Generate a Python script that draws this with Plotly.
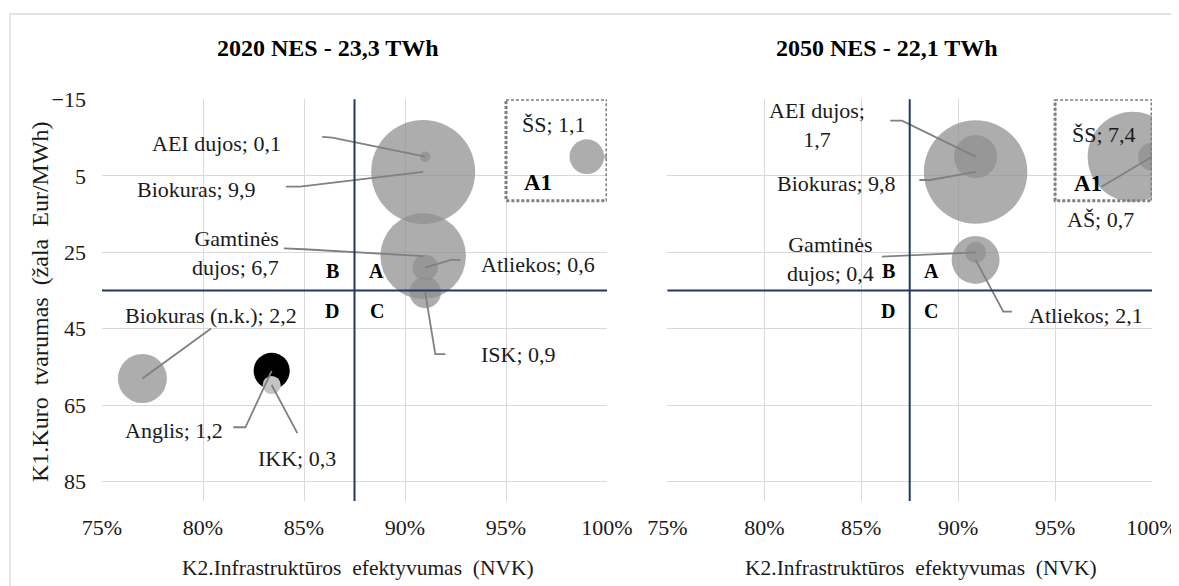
import numpy as np
import plotly.graph_objects as go

# ---------------- data ----------------
panel_titles = ["2020 NES - 23,3 TWh", "2050 NES - 22,1 TWh"]
x_axis_title = "K2.Infrastruktūros  efektyvumas  (NVK)"
y_axis_title = "K1.Kuro  tvarumas  (žala  Eur/MWh)"

fuel_2020 = ["Biokuras", "Gamtinės dujos", "Biokuras (n.k.)", "Anglis", "ŠS",
             "ISK", "Atliekos", "IKK", "AEI dujos", "AŠ"]
k2_2020 = [0.909, 0.909, 0.770, 0.834, 0.990, 0.910, 0.910, 0.834, 0.910, 1.000]
k1_2020 = [4, 26, 58, 56, 0, 35.5, 29, 59.7, 0, 0]
twh_2020 = [9.9, 6.7, 2.2, 1.2, 1.1, 0.9, 0.6, 0.3, 0.1, 0.03]

fuel_2050 = ["Biokuras", "ŠS", "Atliekos", "AEI dujos", "AŠ", "Gamtinės dujos"]
k2_2050 = [0.909, 0.990, 0.909, 0.909, 1.000, 0.909]
k1_2050 = [4, 0, 27, 0, 0, 25]
twh_2050 = [9.8, 7.4, 2.1, 1.7, 0.7, 0.4]

x_tick_vals = [0.75, 0.80, 0.85, 0.90, 0.95, 1.00]
y_tick_vals = [-15, 5, 25, 45, 65, 85]
k2_threshold = 0.875
k1_threshold = 35
zone_a1_k2 = [0.95, 1.00]
zone_a1_k1 = [-15, 11.5]
quadrant_names = ["A", "B", "C", "D"]
zone_name = "A1"

# ---------------- styling / layout ----------------
PAGE_OFF = 8                      # browser body margin
W, H = 1179 - PAGE_OFF, 586 - PAGE_OFF
FONT = "Liberation Serif, Times New Roman, Tinos, DejaVu Serif, serif"
TXT = "#1A1A1A"
GRID = "#D9D9D9"
NAVY = "#203864"
LEADER = "#808080"
BUBBLE = "rgba(143,143,143,0.73)"
special_colors = {"Anglis": "#000000", "IKK": "#C4C4C4"}
D_MAX, V_MAX = 104, 9.9
FS = 22


def px_x(px):
    return (px - PAGE_OFF) / W


def px_y(py):
    return 1 - (py - PAGE_OFF) / H


# label placement: centre (x, y), anchor, leader path (ends at the bubble), line-break mode
labels_2020 = {
    "AEI dujos": dict(pos=(0.8067, -3.5), path=[(0.859, -5.2), (0.864, -5.0)]),
    "Biokuras": dict(pos=(0.797, 8.7), path=[(0.841, 7.85), (0.848, 7.85)]),
    "Gamtinės dujos": dict(pos=(0.8385, 25.3), anchor="right", br="name",
                           path=[(0.840, 24.0), (0.850, 24.2)]),
    "Atliekos": dict(pos=(0.966, 28.3), path=[(0.9275, 27.0), (0.9227, 27.0)]),
    "ISK": dict(pos=(0.956, 51.85), path=[(0.920, 51.6), (0.915, 51.6)]),
    "Biokuras (n.k.)": dict(pos=(0.804, 41.4), path=[(0.804, 44.9)]),
    "Anglis": dict(pos=(0.7856, 71.5), path=[(0.815, 70.75), (0.821, 70.75)]),
    "IKK": dict(pos=(0.8463, 78.9), path=[(0.8467, 72.3)]),
    "ŠS": dict(pos=(0.974, -8.3), path=[]),
}
labels_2050 = {
    "AEI dujos": dict(pos=(0.827, -8.3), br="value", path=[(0.865, -9.4), (0.871, -9.4)]),
    "Biokuras": dict(pos=(0.8373, 7.0), path=[(0.880, 6.1), (0.8856, 6.1)]),
    "Gamtinės dujos": dict(pos=(0.834, 26.75), br="name", path=[(0.8607, 26.15)]),
    "Atliekos": dict(pos=(0.966, 41.4), path=[(0.9278, 40.5), (0.9233, 40.5)]),
    "ŠS": dict(pos=(0.9753, -5.7), path=[]),
    "AŠ": dict(pos=(0.9734, 16.55), path=[(0.974, 7.85)]),
}
quad_pos = {"B": (0.864, 30.0), "A": (0.886, 30.0), "D": (0.864, 40.3), "C": (0.886, 40.3)}
zone_label_pos = [(0.9656, 6.8), (0.967, 7.0)]

x_domains = [[px_x(102), px_x(607)], [px_x(667.4), px_x(1152)]]
y_domain = [px_y(500.9), px_y(99.3)]
title_pos = [(px_x(328), px_y(48)), (px_x(887), px_y(48))]
xtitle_pos = [(px_x(357.6), px_y(568)), (px_x(921), px_y(568))]
ytitle_pos = (px_x(40), px_y(302))


def fmt(v):
    return f"{v:.1f}".replace(".", ",")


def label_text(name, v, mode):
    if mode == "name":
        first, rest = name.split(" ", 1)
        return f"{first}<br>{rest}; {fmt(v)}"
    if mode == "value":
        return f"{name};<br>{fmt(v)}"
    return f"{name}; {fmt(v)}"


fig = go.Figure()
annotations = []
shapes = []

panels = [
    dict(names=fuel_2020, k2=k2_2020, k1=k1_2020, twh=twh_2020, labels=labels_2020, xa="x", ya="y"),
    dict(names=fuel_2050, k2=k2_2050, k1=k1_2050, twh=twh_2050, labels=labels_2050, xa="x2", ya="y2"),
]

for pi, p in enumerate(panels):
    order = list(np.argsort(p["twh"])[::-1])
    fig.add_trace(go.Scatter(
        x=[p["k2"][i] for i in order],
        y=[p["k1"][i] for i in order],
        mode="markers",
        marker=dict(size=[D_MAX * np.sqrt(p["twh"][i] / V_MAX) for i in order],
                    sizemode="diameter", opacity=1,
                    color=[special_colors.get(p["names"][i], BUBBLE) for i in order],
                    line=dict(width=0)),
        text=[p["names"][i] for i in order],
        hoverinfo="text",
        xaxis=p["xa"], yaxis=p["ya"], showlegend=False))

    for name, spec in p["labels"].items():
        i = p["names"].index(name)
        if spec["path"]:
            xs = [pt[0] for pt in spec["path"]] + [p["k2"][i]]
            ys = [pt[1] for pt in spec["path"]] + [p["k1"][i]]
            fig.add_trace(go.Scatter(x=xs, y=ys, mode="lines",
                                     line=dict(color=LEADER, width=1.8),
                                     hoverinfo="skip", showlegend=False,
                                     xaxis=p["xa"], yaxis=p["ya"]))
        anchor = spec.get("anchor", "center")
        annotations.append(dict(
            x=spec["pos"][0], y=spec["pos"][1], xref=p["xa"], yref=p["ya"],
            text=label_text(name, p["twh"][i], spec.get("br")),
            showarrow=False, xanchor=anchor, yanchor="middle",
            align="right" if anchor == "right" else "center",
            font=dict(family=FONT, size=FS, color=TXT)))

    for q in quadrant_names:
        annotations.append(dict(x=quad_pos[q][0], y=quad_pos[q][1], xref=p["xa"], yref=p["ya"],
                                text=f"<b>{q}</b>", showarrow=False,
                                font=dict(family=FONT, size=20, color="#000000")))
    annotations.append(dict(x=zone_label_pos[pi][0], y=zone_label_pos[pi][1], xref=p["xa"], yref=p["ya"],
                            text=f"<b>{zone_name}</b>", showarrow=False,
                            font=dict(family=FONT, size=23, color="#000000")))

    # threshold lines
    shapes.append(dict(type="line", xref=p["xa"], yref=f"{p['ya']} domain",
                       x0=k2_threshold, x1=k2_threshold, y0=0, y1=1,
                       line=dict(color=NAVY, width=2), layer="above"))
    shapes.append(dict(type="line", xref=f"{p['xa']} domain", yref=p["ya"],
                       x0=0, x1=1, y0=k1_threshold, y1=k1_threshold,
                       line=dict(color=NAVY, width=2), layer="above"))
    # A1 zone
    shapes.append(dict(type="rect", xref=p["xa"], yref=p["ya"],
                       x0=zone_a1_k2[0], x1=zone_a1_k2[1], y0=zone_a1_k1[0], y1=zone_a1_k1[1],
                       line=dict(color="#7F7F7F", width=3, dash="3px,2px"), layer="above"))

    # panel title and x-axis title
    annotations.append(dict(x=title_pos[pi][0], y=title_pos[pi][1], xref="paper", yref="paper",
                            text=f"<b>{panel_titles[pi]}</b>", showarrow=False,
                            xanchor="center", yanchor="middle",
                            font=dict(family=FONT, size=24, color="#000000")))
    annotations.append(dict(x=xtitle_pos[pi][0], y=xtitle_pos[pi][1], xref="paper", yref="paper",
                            text=x_axis_title, showarrow=False,
                            xanchor="center", yanchor="middle",
                            font=dict(family=FONT, size=21.5, color=TXT)))

# y-axis title
annotations.append(dict(x=ytitle_pos[0], y=ytitle_pos[1], xref="paper", yref="paper",
                        text=y_axis_title, showarrow=False, textangle=-90,
                        xanchor="center", yanchor="middle",
                        font=dict(family=FONT, size=24, color=TXT)))

# chart-area border
shapes.append(dict(type="rect", xref="paper", yref="paper",
                   x0=px_x(10), x1=1.05, y0=-0.05, y1=px_y(14),
                   line=dict(color=GRID, width=1.3), layer="below"))

xaxis_common = dict(range=[0.75, 1.0], tickvals=x_tick_vals, tickformat=".0%",
                    showgrid=True, gridcolor=GRID, gridwidth=1.3, zeroline=False,
                    showline=False, ticks="", ticklabelstandoff=11, automargin=False,
                    tickfont=dict(family=FONT, size=FS, color=TXT))
yaxis_common = dict(range=[90, -15], tickvals=y_tick_vals, showgrid=True,
                    gridcolor=GRID, gridwidth=1.3, zeroline=False, showline=False,
                    ticks="", domain=y_domain, automargin=False,
                    tickfont=dict(family=FONT, size=FS, color=TXT))

fig.update_layout(
    width=W, height=H, margin=dict(l=0, r=0, t=0, b=0, autoexpand=False),
    paper_bgcolor="white", plot_bgcolor="white",
    xaxis=dict(xaxis_common, domain=x_domains[0], anchor="y"),
    xaxis2=dict(xaxis_common, domain=x_domains[1], anchor="y2"),
    yaxis=dict(yaxis_common, anchor="x", ticklabelstandoff=15),
    yaxis2=dict(yaxis_common, anchor="x2", showticklabels=False),
    annotations=annotations, shapes=shapes, showlegend=False,
)

fig.write_html("out.html")
